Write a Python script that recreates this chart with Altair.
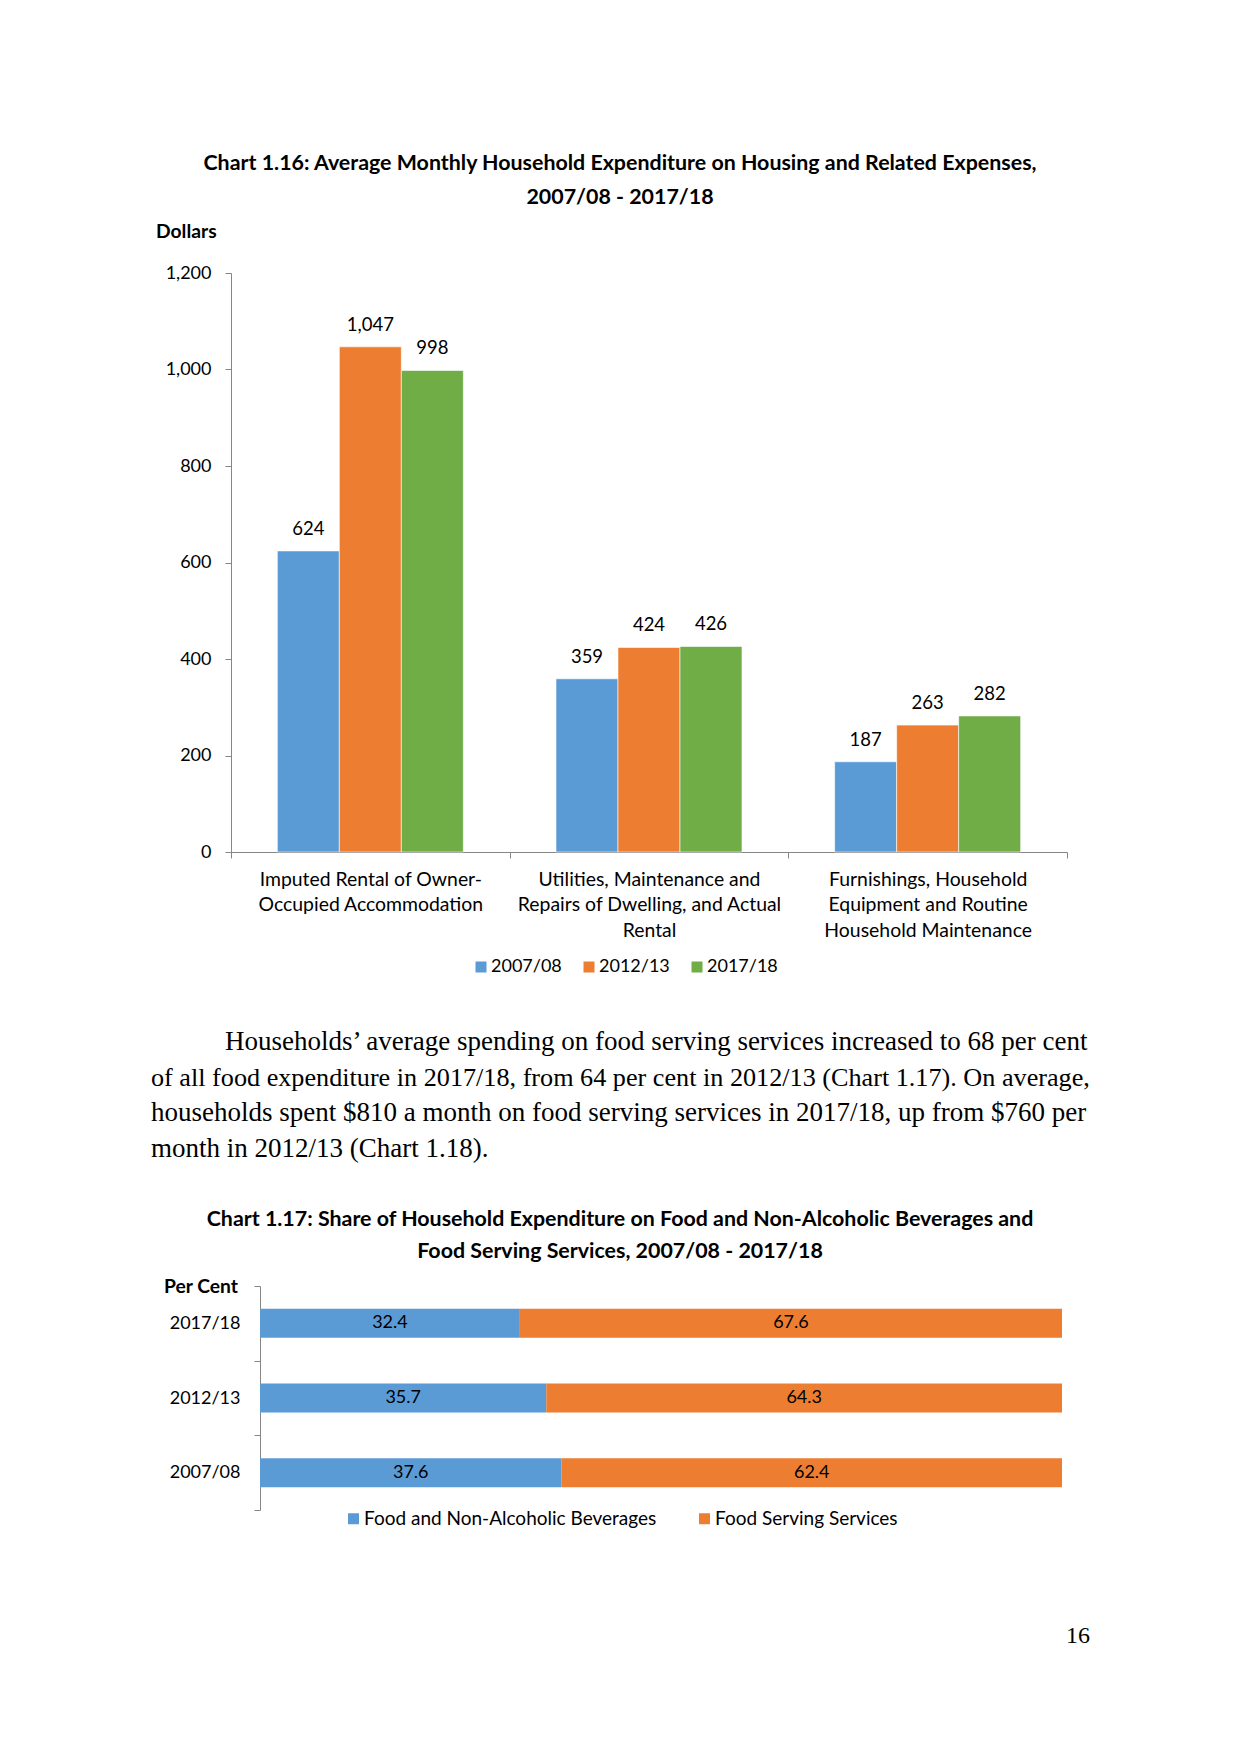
import altair as alt
import pandas as pd
import json

# ---------------- data ----------------
categories = [
    "Imputed Rental of Owner-Occupied Accommodation",
    "Utilities, Maintenance and Repairs of Dwelling, and Actual Rental",
    "Furnishings, Household Equipment and Routine Household Maintenance",
]
category_lines = [
    ["Imputed Rental of Owner-", "Occupied Accommodation"],
    ["Utilities, Maintenance and", "Repairs of Dwelling, and Actual", "Rental"],
    ["Furnishings, Household", "Equipment and Routine", "Household Maintenance"],
]
years = ["2007/08", "2012/13", "2017/18"]
values_0708 = [624, 359, 187]
values_1213 = [1047, 424, 263]
values_1718 = [998, 426, 282]
y_ticks = [0, 200, 400, 600, 800, 1000, 1200]

share_years = ["2017/18", "2012/13", "2007/08"]
share_series = ["Food and Non-Alcoholic Beverages", "Food Serving Services"]
share_food = [32.4, 35.7, 37.6]
share_serving = [67.6, 64.3, 62.4]

title1 = "Chart 1.16: Average Monthly Household Expenditure on Housing and Related Expenses,"
title1b = "2007/08 - 2017/18"
title2 = "Chart 1.17: Share of Household Expenditure on Food and Non-Alcoholic Beverages and"
title2b = "Food Serving Services, 2007/08 - 2017/18"
para = [
    "Households\u2019 average spending on food serving services increased to 68 per cent",
    "of all food expenditure in 2017/18, from 64 per cent in 2012/13 (Chart 1.17). On average,",
    "households spent $810 a month on food serving services in 2017/18, up from $760 per",
    "month in 2012/13 (Chart 1.18).",
]
page_no = "16"

# ---------------- styles ----------------
BLUE, ORANGE, GREEN = "#5B9BD5", "#ED7D31", "#70AD47"
AX = "#868686"
SANS = "Lato"
SERIF = "Liberation Serif"
O1 = (231, 273)    # page position of chart 1 plot origin
O2 = (231, 1286)   # page position of chart 2 plot origin

dummy = pd.DataFrame({"d": [0]})


def txt(s, px, py, origin, size, font=SANS, weight="normal", align="left", baseline="middle"):
    return alt.Chart(dummy).mark_text(
        text=s, fontSize=size, font=font, fontWeight=weight, align=align,
        baseline=baseline, color="black"
    ).encode(x=alt.value(px - origin[0]), y=alt.value(py - origin[1]))


# ---------------- chart 1 ----------------
rows = []
for series_vals, yr in zip([values_0708, values_1213, values_1718], years):
    for c, v in zip(categories, series_vals):
        rows.append({"category": c, "year": yr, "value": v})
df1 = pd.DataFrame(rows)

label_expr = ""
for c, lines in zip(categories, category_lines):
    label_expr += f"datum.label == {json.dumps(c)} ? {json.dumps(lines)} : "
label_expr += "datum.label"

x1 = alt.X(
    "category:N", sort=categories,
    scale=alt.Scale(paddingInner=0, paddingOuter=0),
    axis=alt.Axis(
        title=None, labelAngle=0, labelExpr=label_expr, labelLineHeight=25.5,
        labelBaseline="top", labelPadding=12, labelFontSize=19.4, labelColor="black",
        tickBand="extent", tickSize=6, tickColor=AX, domainColor=AX, labelLimit=400,
    ),
)
xo1 = alt.XOffset("year:N", sort=years, scale=alt.Scale(paddingInner=0, paddingOuter=0.747))
y1 = alt.Y(
    "value:Q", scale=alt.Scale(domain=[0, 1200], nice=False),
    axis=alt.Axis(
        title=None, values=y_ticks, format=",.0f", grid=False, labelFontSize=18,
        labelColor="black", labelPadding=14, tickSize=6, tickColor=AX, domainColor=AX,
    ),
)
bars1 = alt.Chart(df1).mark_bar(stroke="white", strokeWidth=0.6).encode(
    x=x1, xOffset=xo1, y=y1,
    color=alt.Color(
        "year:N", sort=years, scale=alt.Scale(domain=years, range=[BLUE, ORANGE, GREEN]),
        legend=alt.Legend(
            title=None, orient="none", direction="horizontal", legendX=241, legendY=685,
            symbolType="square", symbolSize=121, symbolStrokeWidth=0, labelOffset=1,
            columnPadding=18, labelFontSize=18, labelColor="black", padding=0,
        ),
    ),
)
labels1 = alt.Chart(df1).mark_text(
    dy=-22, baseline="middle", fontSize=18.5, font=SANS, color="black"
).encode(
    x=alt.X("category:N", sort=categories), xOffset=alt.XOffset("year:N", sort=years),
    y="value:Q", text=alt.Text("value:Q", format=","),
)
anchor = alt.Chart(dummy).mark_rule(color="white", strokeWidth=1).encode(
    x=alt.value(-222.5), x2=alt.value(-221.5), y=alt.value(-264.5)
)

chart1 = alt.layer(
    anchor, bars1, labels1,
    txt(title1, 620, 164, O1, 21.4, weight="bold", align="center"),
    txt(title1b, 620, 198, O1, 21.4, weight="bold", align="center"),
    txt("Dollars", 156, 232, O1, 19.3, weight="bold"),
).properties(width=836, height=579)

# ---------------- chart 2 ----------------
rows = []
for i, (s, vals) in enumerate(zip(share_series, [share_food, share_serving])):
    for yr, v in zip(share_years, vals):
        rows.append({"year": yr, "series": s, "share": v, "order": i})
df2 = pd.DataFrame(rows)

base2 = alt.Chart(df2).transform_stack(
    stack="share", groupby=["year"], sort=[alt.SortField("order", order="ascending")],
    as_=["x0", "x1"],
).transform_calculate(mid="(datum.x0 + datum.x1) / 2")

y2 = alt.Y(
    "year:N", sort=share_years,
    scale=alt.Scale(paddingInner=0, paddingOuter=0),
    axis=alt.Axis(
        title=None, labelFontSize=18, labelColor="black", labelPadding=14, tickSize=6,
        tickColor=AX, domainColor=AX, tickBand="extent", offset=-29,
    ),
)
bars2 = base2.mark_bar(height=29).encode(
    x=alt.X("x0:Q", scale=alt.Scale(domain=[0, 100], range=[29, 831], nice=False, zero=True), axis=None),
    x2="x1:Q",
    y=y2,
    color=alt.Color(
        "series:N", sort=share_series, scale=alt.Scale(domain=share_series, range=[BLUE, ORANGE]),
        legend=alt.Legend(
            title=None, orient="none", direction="horizontal", legendX=113, legendY=223,
            symbolType="square", symbolSize=121, symbolStrokeWidth=0, labelOffset=1,
            columnPadding=38, labelFontSize=19.0, labelColor="black", padding=0, labelLimit=500,
        ),
    ),
)
labels2 = base2.mark_text(baseline="middle", fontSize=18, font=SANS, color="black").encode(
    x=alt.X("mid:Q"), y=alt.Y("year:N", sort=share_years),
    text=alt.Text("share:Q", format=".1f"),
)

para_layers = [
    txt(para[0], 225, 1050, O2, 27, font=SERIF, baseline="alphabetic"),
    txt(para[1], 151, 1085.7, O2, 26.2, font=SERIF, baseline="alphabetic"),
    txt(para[2], 151, 1121.4, O2, 27, font=SERIF, baseline="alphabetic"),
    txt(para[3], 151, 1157, O2, 27, font=SERIF, baseline="alphabetic"),
]

chart2 = alt.layer(
    bars2, labels2, *para_layers,
    txt(title2, 620, 1220, O2, 21.4, weight="bold", align="center"),
    txt(title2b, 620, 1252, O2, 21.4, weight="bold", align="center"),
    txt("Per Cent", 164, 1287, O2, 19.3, weight="bold"),
    txt(page_no, 1090, 1643, O2, 24, font=SERIF, align="right", baseline="alphabetic"),
).properties(width=834, height=224)

chart = alt.vconcat(
    chart1, chart2, spacing=434, bounds="flush"
).resolve_scale(
    color="independent", x="independent", y="independent"
).resolve_legend(color="independent").properties(
    padding=0, background="white"
).configure_view(stroke=None).configure_axis(
    labelFont=SANS
).configure_legend(labelFont=SANS)

chart.save("out.html", embed_options={"renderer": "svg", "actions": False})
